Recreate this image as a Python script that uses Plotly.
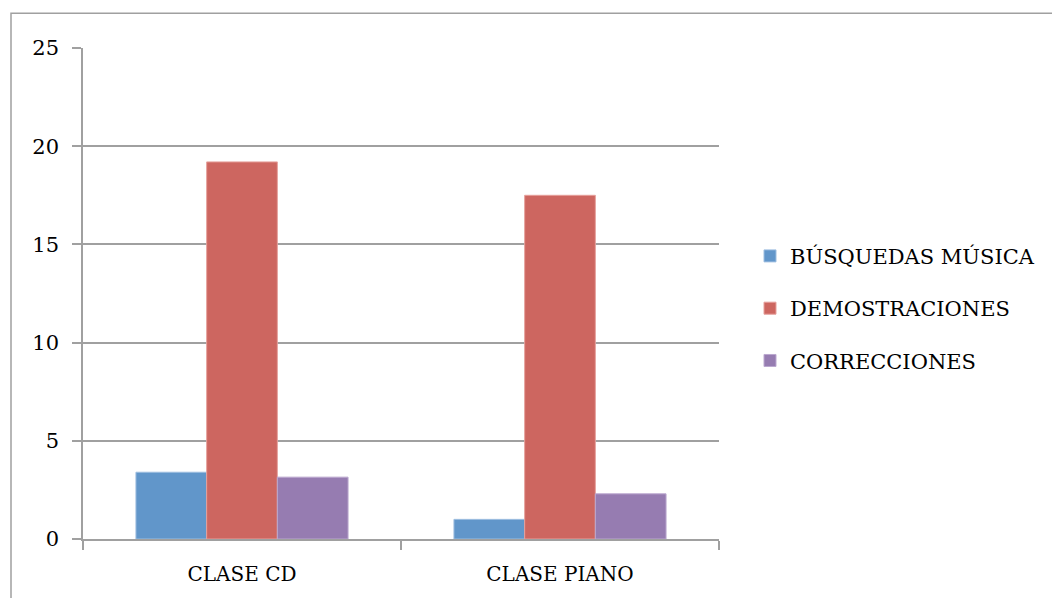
import plotly.graph_objects as go

categories = ["CLASE CD", "CLASE PIANO"]
busquedas = [3.4, 1.0]
demostraciones = [19.2, 17.5]
correcciones = [3.15, 2.3]
series_names = ["BÚSQUEDAS MÚSICA", "DEMOSTRACIONES", "CORRECCIONES"]
y_ticks = [0, 5, 10, 15, 20, 25]

colors = ["#6196CA", "#CD6660", "#967CB1"]
edges = ["#9DBEE0", "#E6A19C", "#BBA8CF"]

W, H = 1052, 598
L, R, T, B = 83, 333, 48, 57
FONT = "DejaVu Serif"

fig = go.Figure()
for name, vals, c, e in zip(series_names, [busquedas, demostraciones, correcciones], colors, edges):
    fig.add_trace(go.Bar(x=categories, y=vals, name=name, legendgroup=name,
                         marker=dict(color=c, line=dict(color=e, width=1))))

pw = W - L - R
ph = H - T - B
bx0 = (11 - L) / pw
by1 = (H - B - 13) / ph

fig.update_layout(
    width=W, height=H,
    margin=dict(l=L, r=R, t=T, b=B),
    paper_bgcolor="white", plot_bgcolor="white",
    font=dict(family=FONT, size=21, color="black"),
    barmode="group", bargap=0.333, bargroupgap=0,
    showlegend=True,
    legend=dict(x=(750 - L) / pw, y=0.47, xanchor="left", yanchor="middle",
                font=dict(family=FONT, size=21, color="black"),
                tracegroupgap=22, bgcolor="rgba(0,0,0,0)"),
    xaxis=dict(showline=True, linecolor="#A0A0A0", linewidth=1.5,
               ticks="outside", ticklen=9, tickcolor="#A0A0A0", tickwidth=1.5,
               tickson="boundaries", showgrid=False, ticklabelstandoff=16,
               tickfont=dict(family=FONT, size=20, color="black")),
    yaxis=dict(range=[0, 25], tickvals=y_ticks, showline=True, linecolor="#A0A0A0",
               linewidth=1.5, ticks="outside", ticklen=9, tickcolor="#A0A0A0",
               tickwidth=1.5, showgrid=True, gridcolor="#A0A0A0", gridwidth=1.5,
               zeroline=False, ticklabelstandoff=9,
               tickfont=dict(family=FONT, size=21, color="black")),
    shapes=[dict(type="rect", xref="paper", yref="paper",
                 x0=bx0, x1=1.8, y0=-0.3, y1=by1,
                 line=dict(color="#A0A0A0", width=1.5), layer="below")],
)

fig.write_html("out.html")
